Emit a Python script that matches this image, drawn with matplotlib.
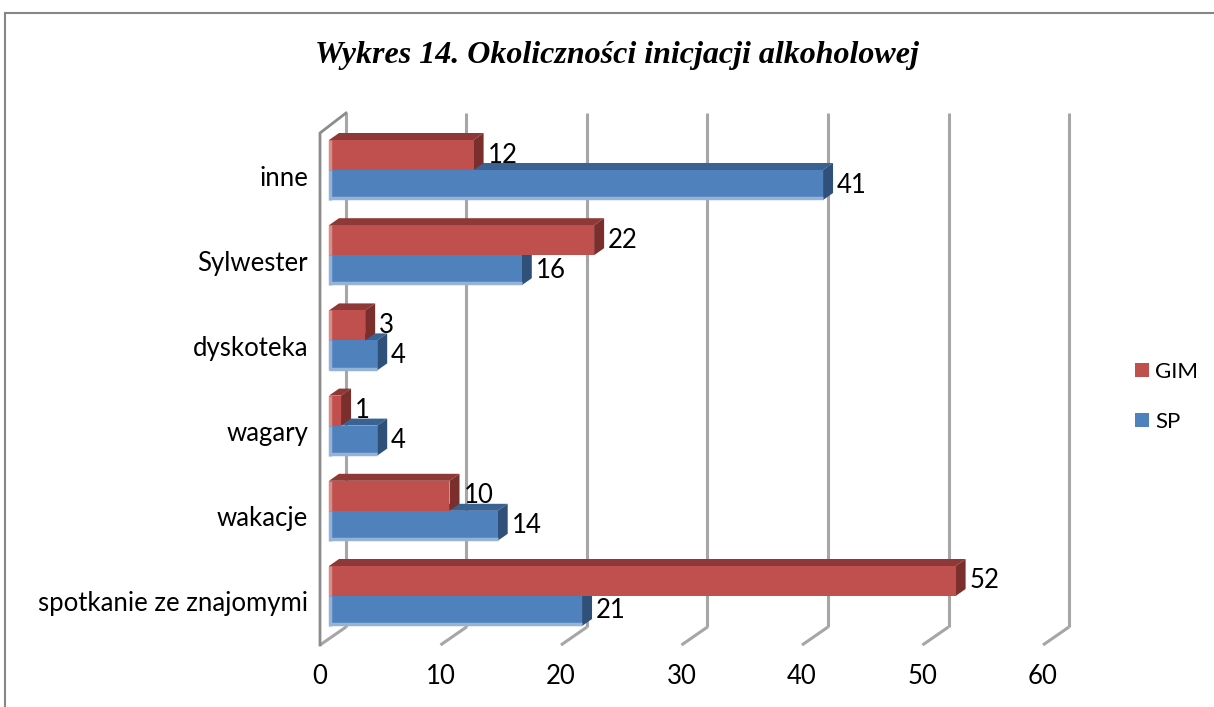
import matplotlib
matplotlib.use('Agg')
import matplotlib.pyplot as plt
from matplotlib.patches import Polygon, Patch
from matplotlib.lines import Line2D

categories = ['spotkanie ze znajomymi', 'wakacje', 'wagary', 'dyskoteka', 'Sylwester', 'inne']
gim = [52, 10, 1, 3, 22, 12]
sp = [21, 14, 4, 4, 16, 41]
xticks = [0, 10, 20, 30, 40, 50, 60]
series_names = ['GIM', 'SP']
title = 'Wykres 14. Okoliczności inicjacji alkoholowej'

W, H = 1214, 707
fig = plt.figure(figsize=(W / 100, H / 100), dpi=100)
ax = fig.add_axes([0, 0, 1, 1])
ax.set_axis_off()

# pixel geometry of the pseudo-3D plot
SX, X0 = 12.05, 329.0   # px per unit, px of value 0 at bar front plane
SY, Y0 = 85.2, 596.0    # px per category, px (from top) of first category centre
ax.set_xlim((0 - X0) / SX, (W - X0) / SX)
ax.set_ylim((Y0 - H) / SY, Y0 / SY)

def cy(py):
    return (Y0 - py) / SY

RED, RED_TOP, RED_SIDE, RED_LIGHT = '#C0504D', '#8E3937', '#7A2F2D', '#D88F8C'
BLUE, BLUE_TOP, BLUE_SIDE, BLUE_LIGHT = '#4F81BD', '#3A6393', '#2F5179', '#95B3D7'
GRID = '#A6A6A6'
WALL = '#8C8C8C'

back_dx = 17 / SX
front_dx = -9 / SX
back_bot, back_top = cy(627), cy(113)
front_bot, front_top = cy(645), cy(133)

# gridlines on back wall and floor
for v in xticks:
    ax.plot([v + back_dx, v + back_dx], [back_bot, back_top], color=GRID, lw=2.2,
            zorder=1, solid_capstyle='butt')
    ax.plot([v + back_dx, v + front_dx], [back_bot, front_bot], color=GRID, lw=2.2,
            zorder=1, solid_capstyle='butt')
# left wall outline
ax.plot([front_dx, front_dx, back_dx], [front_bot, front_top, back_top], color=WALL,
        lw=2.0, zorder=1)

h = 30 / SY
dxs, dys = 10 / SX, 7 / SY

def draw_bar(v, y0, front, top, side, light, bottom_light):
    # top face
    ax.add_patch(Polygon([(0, y0 + h), (dxs, y0 + h + dys), (v + dxs, y0 + h + dys), (v, y0 + h)],
                         closed=True, facecolor=top, edgecolor='none', zorder=3))
    # side face
    ax.add_patch(Polygon([(v, y0), (v + dxs, y0 + dys), (v + dxs, y0 + h + dys), (v, y0 + h)],
                         closed=True, facecolor=side, edgecolor='none', zorder=3))
    ax.barh(y0 + h / 2, v, height=h, left=0, color=front, edgecolor='none', zorder=3)
    ax.plot([0.12, 0.12], [y0, y0 + h], color=light, lw=2.5, zorder=3.5, solid_capstyle='butt')
    if bottom_light:
        ax.plot([0, v], [y0 + 0.02, y0 + 0.02], color=light, lw=2.5, zorder=3.5,
                solid_capstyle='butt')

lab_fs = 18.5
for i, cat in enumerate(categories):
    # SP (blue) below, GIM (red) above
    draw_bar(sp[i], i - h, BLUE, BLUE_TOP, BLUE_SIDE, BLUE_LIGHT, True)
    draw_bar(gim[i], i, RED, RED_TOP, RED_SIDE, RED_LIGHT, False)
    ax.text(gim[i] + dxs + 4 / SX, i + h / 2, str(gim[i]), ha='left', va='center',
            fontsize=lab_fs, family='Lato', zorder=5)
    ax.text(sp[i] + dxs + 4 / SX, i - h / 2, str(sp[i]), ha='left', va='center',
            fontsize=lab_fs, family='Lato', zorder=5)
    ax.text((308 - X0) / SX, i - 8 / SY, cat, ha='right', va='center',
            fontsize=lab_fs, family='Lato')

for v in xticks:
    ax.text(v + front_dx, cy(677), str(v), ha='center', va='center',
            fontsize=lab_fs, family='Lato')

handles = [Patch(facecolor=RED, edgecolor='none'), Patch(facecolor=BLUE, edgecolor='none')]
ax.legend(handles, series_names, loc='upper left', bbox_to_anchor=(1135 / W, 1 - 362 / H),
          bbox_transform=fig.transFigure, frameon=False, prop={'family': 'Lato', 'size': 16},
          handlelength=0.62, handleheight=0.62, handletextpad=0.3, labelspacing=1.35,
          borderpad=0, borderaxespad=0)

fig.text(617 / W, 1 - 56 / H, title, ha='center', va='center', fontsize=23,
         family='Liberation Serif', weight='bold', style='italic')

# outer chart frame (partly cropped)
fig.add_artist(Line2D([5 / W, 1], [1 - 13 / H, 1 - 13 / H], transform=fig.transFigure,
                      color='#868686', lw=1.5))
fig.add_artist(Line2D([5 / W, 5 / W], [0, 1 - 13 / H], transform=fig.transFigure,
                      color='#868686', lw=1.5))

fig.savefig('out.png', dpi=100, facecolor='white')
